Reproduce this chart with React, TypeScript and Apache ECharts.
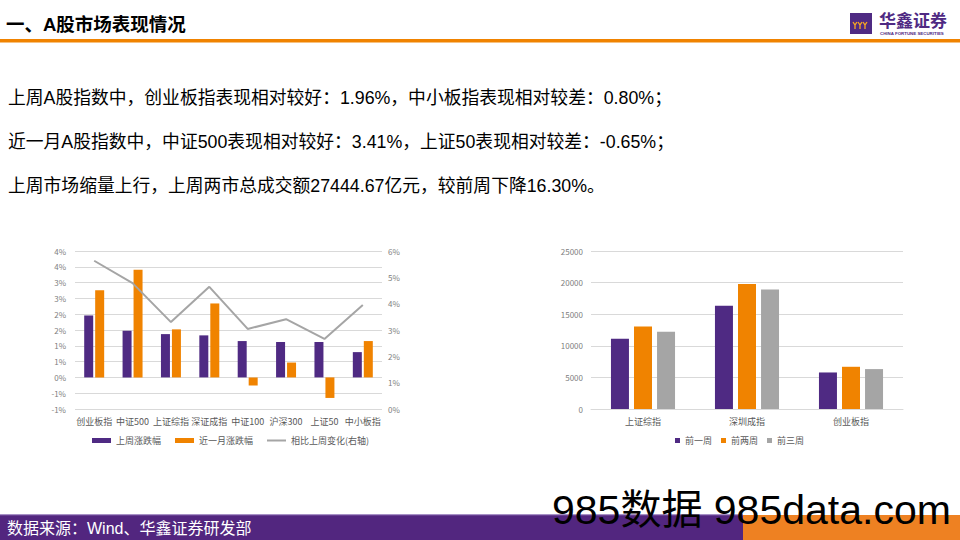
import React, { useEffect, useRef } from "react";
import * as echarts from "echarts";

// ---------- data ----------
const indexCategories = ["创业板指", "中证500", "上证综指", "深证成指", "中证100", "沪深300", "上证50", "中小板指"];
const weekChange = [1.96, 1.48, 1.37, 1.33, 1.15, 1.12, 1.12, 0.8];
const monthChange = [2.76, 3.41, 1.52, 2.34, -0.26, 0.47, -0.65, 1.15];
const changeVsLastWeek = [5.63, 4.78, 3.3, 4.64, 3.04, 3.41, 2.66, 3.95];
const leftSeriesNames = ["上周涨跌幅", "近一月涨跌幅", "相比上周变化(右轴)"];

const turnoverCategories = ["上证综指", "深圳成指", "创业板指"];
const turnoverWeek1 = [11120, 16325, 5780];
const turnoverWeek2 = [13050, 19790, 6680];
const turnoverWeek3 = [12210, 18890, 6315];
const rightSeriesNames = ["前一周", "前两周", "前三周"];

const titleText = "一、A股市场表现情况";
const bodyLines = [
  "上周A股指数中，创业板指表现相对较好：1.96%，中小板指表现相对较差：0.80%；",
  "近一月A股指数中，中证500表现相对较好：3.41%，上证50表现相对较差：-0.65%；",
  "上周市场缩量上行，上周两市总成交额27444.67亿元，较前周下降16.30%。",
];
const footerText = "数据来源：Wind、华鑫证券研发部";
const watermarkText = "985数据 985data.com";

const PURPLE = "#4F2A83";
const ORANGE = "#F08300";
const GRAY = "#A5A5A5";
const GRID = "#D9D9D9";
const FONT = "'Noto Sans CJK SC', 'Noto Sans', sans-serif";
const MIXFONT = "'Liberation Sans', 'Noto Sans CJK SC', sans-serif";

function excelRoundPct(v: number) {
  const r = v < 0 ? -Math.round(-v) : Math.round(v);
  return r + "%";
}

export default function App() {
  const ref = useRef<HTMLDivElement>(null);
  useEffect(() => {
    document.body.style.margin = "0";
    const chart = echarts.init(ref.current!, null, { renderer: "svg" });
    const axisLabelGray = { color: "#808080", fontSize: 8, fontFamily: FONT };
    const catLabel = { color: "#595959", fontSize: 9, fontFamily: FONT };
    chart.setOption({
      animation: false,
      backgroundColor: "#fff",
      textStyle: { fontFamily: FONT },
      grid: [
        { left: 75, top: 251, width: 307, height: 158 },
        { left: 591, top: 251, width: 312, height: 158 },
      ],
      legend: [
        {
          data: [
            { name: leftSeriesNames[0] },
            { name: leftSeriesNames[1] },
            { name: leftSeriesNames[2], icon: "path://M0,0 L19,0 L19,2 L0,2 Z" },
          ],
          left: 92,
          top: 436,
          padding: 0,
          icon: "rect",
          itemWidth: 19,
          itemHeight: 5,
          itemGap: 14,
          textStyle: { color: "#595959", fontSize: 9, fontFamily: FONT },
        },
        {
          data: rightSeriesNames,
          left: 675,
          top: 436,
          padding: 0,
          icon: "rect",
          itemWidth: 5,
          itemHeight: 5,
          itemGap: 9,
          textStyle: { color: "#595959", fontSize: 9, fontFamily: FONT },
        },
      ],
      xAxis: [
        {
          type: "category",
          gridIndex: 0,
          data: indexCategories,
          axisLine: { show: false, onZero: false },
          axisTick: { show: false },
          axisLabel: { ...catLabel, margin: 8, interval: 0 },
        },
        {
          type: "category",
          gridIndex: 1,
          data: turnoverCategories,
          axisLine: { show: true, lineStyle: { color: GRID } },
          axisTick: { show: false },
          axisLabel: { ...catLabel, margin: 8 },
        },
      ],
      yAxis: [
        {
          type: "value",
          gridIndex: 0,
          min: -1,
          max: 4,
          interval: 0.5,
          axisLine: { show: false },
          axisTick: { show: false },
          axisLabel: { ...axisLabelGray, margin: 9, formatter: (v: number) => excelRoundPct(v) },
          splitLine: { lineStyle: { color: GRID } },
        },
        {
          type: "value",
          gridIndex: 0,
          min: 0,
          max: 6,
          interval: 1,
          position: "right",
          axisLine: { show: false },
          axisTick: { show: false },
          axisLabel: { ...axisLabelGray, margin: 6, formatter: (v: number) => v + "%" },
          splitLine: { show: false },
        },
        {
          type: "value",
          gridIndex: 1,
          min: 0,
          max: 25000,
          interval: 5000,
          axisLine: { show: false },
          axisTick: { show: false },
          axisLabel: { ...axisLabelGray, margin: 8, formatter: (v: number) => String(v) },
          splitLine: { lineStyle: { color: GRID } },
        },
      ],
      series: [
        {
          name: leftSeriesNames[0],
          type: "bar",
          xAxisIndex: 0,
          yAxisIndex: 0,
          data: weekChange,
          barWidth: 9,
          barGap: "22%",
          itemStyle: { color: PURPLE },
        },
        {
          name: leftSeriesNames[1],
          type: "bar",
          xAxisIndex: 0,
          yAxisIndex: 0,
          data: monthChange,
          barWidth: 9,
          barGap: "22%",
          itemStyle: { color: ORANGE },
        },
        {
          name: leftSeriesNames[2],
          type: "line",
          xAxisIndex: 0,
          yAxisIndex: 1,
          data: changeVsLastWeek,
          symbol: "none",
          lineStyle: { color: GRAY, width: 2 },
          itemStyle: { color: GRAY },
        },
        {
          name: rightSeriesNames[0],
          type: "bar",
          xAxisIndex: 1,
          yAxisIndex: 2,
          data: turnoverWeek1,
          barWidth: 18,
          barGap: "28%",
          itemStyle: { color: PURPLE },
        },
        {
          name: rightSeriesNames[1],
          type: "bar",
          xAxisIndex: 1,
          yAxisIndex: 2,
          data: turnoverWeek2,
          barWidth: 18,
          barGap: "28%",
          itemStyle: { color: ORANGE },
        },
        {
          name: rightSeriesNames[2],
          type: "bar",
          xAxisIndex: 1,
          yAxisIndex: 2,
          data: turnoverWeek3,
          barWidth: 18,
          barGap: "28%",
          itemStyle: { color: GRAY },
        },
      ],
      graphic: [
        // header
        {
          type: "text",
          x: 6,
          y: 24,
          style: { text: titleText, font: `bold 18.5px ${MIXFONT}`, fill: "#000", verticalAlign: "middle" },
        },
        { type: "rect", shape: { x: 0, y: 39, width: 960, height: 3.5 }, style: { fill: ORANGE } },
        // logo
        { type: "rect", shape: { x: 850, y: 13, width: 22, height: 21 }, style: { fill: PURPLE } },
        { type: "polyline", shape: { points: [[853, 22], [855, 25], [857, 22], [855, 25], [855, 29]] }, style: { stroke: "#F7A823", lineWidth: 1.3, fill: "none" } },
        { type: "polyline", shape: { points: [[858, 22], [860, 25], [862, 22], [860, 25], [860, 29]] }, style: { stroke: "#F7A823", lineWidth: 1.3, fill: "none" } },
        { type: "polyline", shape: { points: [[863, 22], [865, 25], [867, 22], [865, 25], [865, 29]] }, style: { stroke: "#F7A823", lineWidth: 1.3, fill: "none" } },
        {
          type: "text",
          x: 879,
          y: 19,
          style: { text: "华鑫证券", font: `bold 17px ${FONT}`, fill: PURPLE, verticalAlign: "middle" },
        },
        {
          type: "text",
          x: 880,
          y: 33.5,
          style: { text: "CHINA FORTUNE SECURITIES", font: `bold 4.4px 'Liberation Sans', sans-serif`, fill: PURPLE, verticalAlign: "middle" },
        },
        // body
        ...bodyLines.map((t, i) => ({
          type: "text",
          x: 8,
          y: 98 + i * 44,
          style: { text: t, font: `17.8px ${MIXFONT}`, fill: "#000", verticalAlign: "middle" },
        })),
        // footer
        { type: "rect", shape: { x: 0, y: 515, width: 743, height: 25 }, style: { fill: "#52267F" } },
        { type: "rect", shape: { x: 0, y: 514, width: 743, height: 1.2 }, style: { fill: "#A790C6" } },
        { type: "rect", shape: { x: 743, y: 515, width: 217, height: 25 }, style: { fill: "#EE8122" } },
        {
          type: "text",
          x: 7,
          y: 528,
          style: { text: footerText, font: `16px ${MIXFONT}`, fill: "#fff", verticalAlign: "middle" },
        },
        {
          type: "text",
          x: 552,
          y: 510,
          z: 100,
          style: { text: watermarkText, font: `41px 'Liberation Sans', ${FONT}`, fill: "#000", verticalAlign: "middle" },
        },
      ],
    });
    return () => chart.dispose();
  }, []);
  return <div ref={ref} style={{ position: "absolute", left: 0, top: 0, width: 960, height: 540 }} />;
}
